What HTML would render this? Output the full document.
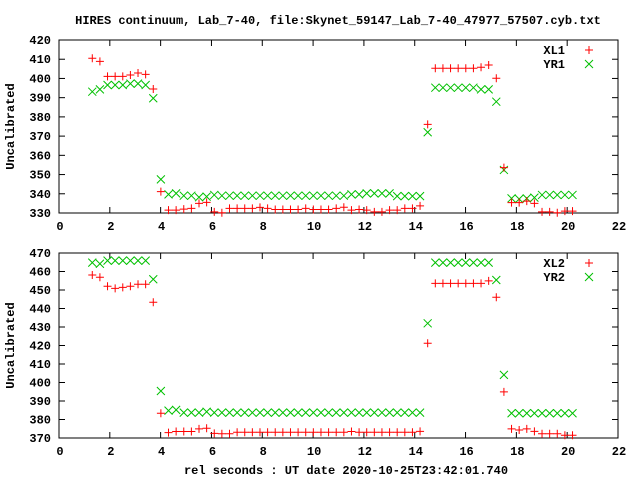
<!DOCTYPE html>
<html><head><meta charset="utf-8">
<style>
html,body{margin:0;padding:0;background:#fff;}
svg{display:block;}
text{font-family:"Liberation Mono",monospace;font-weight:bold;font-size:12px;fill:#000;}
</style></head>
<body>
<svg id="chart" width="640" height="480" viewBox="0 0 640 480" xmlns="http://www.w3.org/2000/svg">
<text x="338" y="24" text-anchor="middle">HIRES continuum, Lab_7-40, file:Skynet_59147_Lab_7-40_47977_57507.cyb.txt</text>
<text x="346" y="474" text-anchor="middle">rel seconds : UT date 2020-10-25T23:42:01.740</text>
<g id="top"></g>
<g id="bot"></g>
</svg>
<script>
const times = [1.31,1.61,1.91,2.21,2.51,2.81,3.11,3.41,3.71,4.01,4.31,4.61,4.91,5.21,5.51,5.81,6.11,6.41,6.71,7.01,7.31,7.61,7.91,8.21,8.51,8.81,9.11,9.41,9.71,10.01,10.31,10.61,10.91,11.21,11.51,11.81,12.11,12.41,12.71,13.01,13.31,13.61,13.91,14.21,14.51,14.81,15.11,15.41,15.71,16.01,16.31,16.61,16.91,17.21,17.51,17.81,18.11,18.41,18.71,19.01,19.31,19.61,19.91,20.21];
const xl1 = [410.5,408.9,401.1,401.1,401.1,401.8,402.8,402.1,394.5,341.1,331.5,331.5,332,332.4,335,335.5,330.6,330.1,332.4,332.4,332.4,332.4,332.9,332.4,331.8,331.8,331.8,331.8,332.4,331.8,331.8,331.8,332.4,333,331.5,331.8,331.5,330.6,330.6,331.5,331.5,332.4,332.4,333.7,376.1,405.3,405.3,405.3,405.3,405.3,405.3,405.8,407,400.1,353.6,335.4,335.4,336.2,335,330.6,330.6,330.1,331,331];
const yr1 = [393.1,394.3,396.6,396.6,396.6,397.3,397.3,396.6,389.7,347.5,339.7,340.2,339,339,338.2,338.5,339.4,339,339,339,339,339,339,339,339,339,339,339,339,339,339,339,339,339,339.7,339.7,340.2,340.2,340.2,340.2,338.8,338.8,338.8,338.8,372,395.2,395.2,395.2,395.2,395.2,395.2,394.3,394.3,387.9,352.4,337.6,337.3,337.6,338,339.4,339.4,339.4,339.4,339.4];
const xl2 = [458.1,456.9,452,450.9,451.4,452,453.1,453.1,443.4,383.4,372.9,373.5,373.5,373.5,374.9,375.3,372.5,372.3,372.3,373.1,373.1,373.1,373.1,373.1,373.1,373.1,373.1,373.1,373.1,373.1,373.1,373.1,373.1,373.1,373.5,373.1,373.1,373.1,373.1,373.1,373.1,373.1,373.1,373.6,421.2,453.6,453.6,453.6,453.6,453.6,453.6,453.6,454.9,446.1,394.9,374.9,374.3,374.9,373.6,372.3,372.3,372.3,371.5,371.5];
const yr2 = [464.8,464.2,465.9,465.9,465.9,465.9,465.9,465.9,455.8,395.4,384.8,385.2,383.7,383.7,383.7,384.2,383.7,383.7,383.7,383.7,383.7,383.7,383.7,383.7,383.7,383.7,383.7,383.7,383.7,383.7,383.7,383.7,383.7,383.7,383.7,383.7,383.7,383.7,383.7,383.7,383.7,383.7,383.7,383.7,432,464.8,464.8,464.8,464.8,464.8,464.8,464.8,464.8,455.4,404.1,383.4,383.4,383.4,383.4,383.4,383.4,383.4,383.4,383.4];
const xTicks = [0,2,4,6,8,10,12,14,16,18,20,22];
const yTicksTop = [330,340,350,360,370,380,390,400,410,420];
const yTicksBot = [370,380,390,400,410,420,430,440,450,460,470];
const legTop = ["XL1","YR1"];
const legBot = ["XL2","YR2"];

const NS="http://www.w3.org/2000/svg";
function mk(parent,tag,attrs){const e=document.createElementNS(NS,tag);for(const k in attrs)e.setAttribute(k,attrs[k]);parent.appendChild(e);return e;}

function panel(g,top,bottom,ymin,ymax,yTicks,s1,s2,leg){
  const L=59,R=618;
  const xs=v=>L+(v-0)/(22-0)*(R-L);
  const ys=v=>bottom-(v-ymin)/(ymax-ymin)*(bottom-top);
  const frame=mk(g,'rect',{x:L,y:top,width:R-L,height:bottom-top,fill:'none',stroke:'#000','stroke-width':1});
  
  
  xTicks.forEach(t=>{
    const x=xs(t);
    if(t>0&&t<22){
      const a=mk(g,'line',{x1:x,y1:bottom,x2:x,y2:bottom-6,stroke:'#000'});
      
      
      const b=mk(g,'line',{x1:x,y1:top,x2:x,y2:top+6,stroke:'#000'});
      
      
    }
    const tl=mk(g,'text',{x:x+1,y:bottom+17,'text-anchor':'middle'});
    tl.textContent=t;
    
    
  });
  yTicks.forEach(t=>{
    const y=ys(t);
    if(t>ymin&&t<ymax){
      const a=mk(g,'line',{x1:L,y1:y,x2:L+6,y2:y,stroke:'#000'});
      
      
      const b=mk(g,'line',{x1:R,y1:y,x2:R-6,y2:y,stroke:'#000'});
      
      
    }
    const tl=mk(g,'text',{x:51,y:y+4,'text-anchor':'end'});
    tl.textContent=t;
    
    
  });
  const cy=(top+bottom)/2;
  const yl=mk(g,'text',{x:14,y:cy,'text-anchor':'middle',transform:'rotate(-90 14 '+cy+')'});
  yl.textContent='Uncalibrated';
  
  
  function plus(x,y){const p=mk(g,'path',{d:`M${x-4},${y}h8M${x},${y-4}v8`,stroke:'#ff0000','stroke-width':1,fill:'none'});return p;}
  function cross(x,y){const p=mk(g,'path',{d:`M${x-4},${y-4}l8,8M${x-4},${y+4}l8,-8`,stroke:'#00c000','stroke-width':1,fill:'none'});return p;}
  s2.forEach((v,i)=>{const p=cross(xs(times[i]),ys(v));
    
    });
  s1.forEach((v,i)=>{const p=plus(xs(times[i]),ys(v));
    
    });
  const l1=mk(g,'text',{x:565,y:top+14,'text-anchor':'end'});l1.textContent=leg[0];
  
  
  const m1=plus(589,top+10);
  
  
  const l2=mk(g,'text',{x:565,y:top+28,'text-anchor':'end'});l2.textContent=leg[1];
  
  
  const m2=cross(589,top+24);
  
  
}
panel(document.getElementById('top'),40,213,330,420,yTicksTop,xl1,yr1,legTop);
panel(document.getElementById('bot'),253,438,370,470,yTicksBot,xl2,yr2,legBot);
</script>
</body></html>
